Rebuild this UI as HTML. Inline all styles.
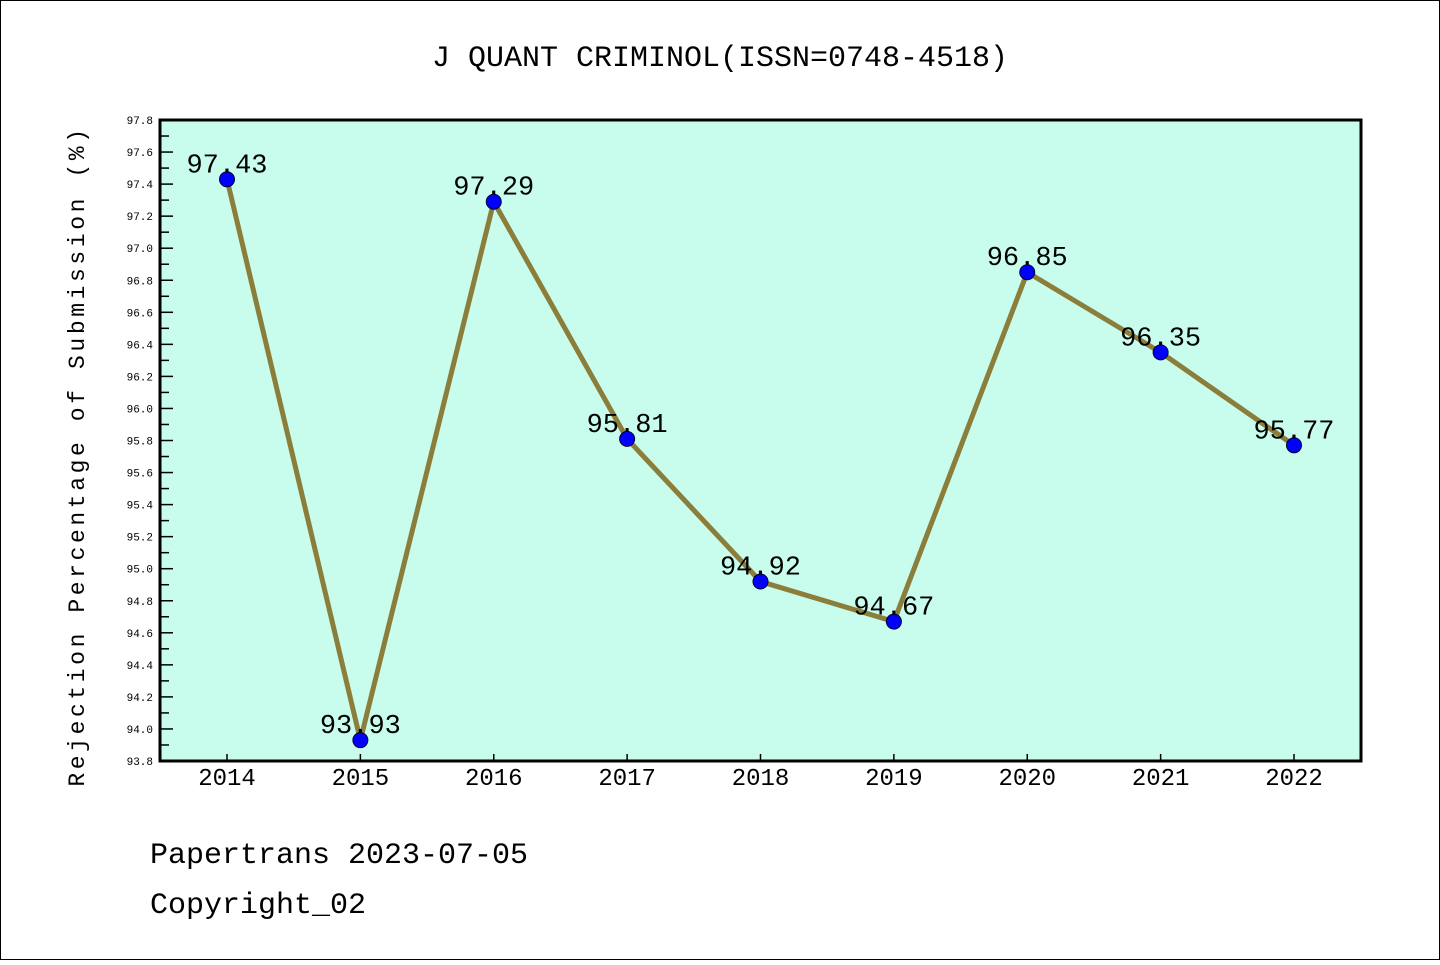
<!DOCTYPE html>
<html><head><meta charset="utf-8"><style>
body{margin:0;background:#fff}
svg text{font-family:"Liberation Mono","DejaVu Sans Mono",monospace}
</style></head><body>
<svg width="1440" height="960" xmlns="http://www.w3.org/2000/svg">
<rect x="0.5" y="0.5" width="1439" height="959" fill="#fff" stroke="#000"/>
<text x="720" y="66" font-size="30" text-anchor="middle">J QUANT CRIMINOL(ISSN=0748-4518)</text>
<rect x="160" y="120" width="1201" height="641" fill="#c8fcec"/>
<g id="axes"></g>
<g id="marks"></g>
<rect x="160" y="120" width="1201" height="641" fill="none" stroke="#000" stroke-width="3"/>
<text transform="translate(84,456) rotate(-90)" font-size="23" text-anchor="middle" letter-spacing="3.6">Rejection Percentage of Submission (%)</text>
<text x="150" y="863" font-size="30">Papertrans 2023-07-05</text>
<text x="150" y="913" font-size="30">Copyright_02</text>
</svg>
<script>
const years=["2014","2015","2016","2017","2018","2019","2020","2021","2022"];
const values=[97.43,93.93,97.29,95.81,94.92,94.67,96.85,96.35,95.77];
const labels=["97.43","93.93","97.29","95.81","94.92","94.67","96.85","96.35","95.77"];
const yMin=93.8,yMax=97.8;
const NS="http://www.w3.org/2000/svg";
const X=i=>227+i*(1294-227)/8;
const Y=v=>761-(v-yMin)/(yMax-yMin)*641;
function mk(t,a,p){const e=document.createElementNS(NS,t);for(const k in a)e.setAttribute(k,a[k]);p.appendChild(e);return e;}
const ax=document.getElementById('axes'),mg=document.getElementById('marks');
for(let k=0;k<=40;k++){const v=yMin+k*0.1;const y=Y(v);const major=k%2===0;
 const t=mk('line',{x1:160,x2:major?173:169,y1:y,y2:y,stroke:'#000','stroke-width':1.5},ax);
 
 if(major){const l=mk('text',{x:153,y:y+4,'font-size':11,'text-anchor':'end'},ax);l.textContent=v.toFixed(1);
 }}
years.forEach((yr,i)=>{const x=X(i);
 const t=mk('line',{x1:x,x2:x,y1:754,y2:761,stroke:'#000','stroke-width':1.5},ax);
 
 const l=mk('text',{x:x,y:785,'font-size':24,'text-anchor':'middle'},ax);l.textContent=yr;
 });
const pl=mk('polyline',{points:values.map((v,i)=>X(i)+','+Y(v)).join(' '),fill:'none',stroke:'#8b7d3a','stroke-width':5,'stroke-linejoin':'round'},mg);

values.forEach((v,i)=>{const c=mk('circle',{cx:X(i),cy:Y(v),r:7.5,fill:'#0000ff',stroke:'#000033','stroke-width':1},mg);
 
 const l=mk('text',{x:X(i),y:Y(v)-7,'font-size':27,'text-anchor':'middle'},mg);l.textContent=labels[i];
 });
</script>
</body></html>
